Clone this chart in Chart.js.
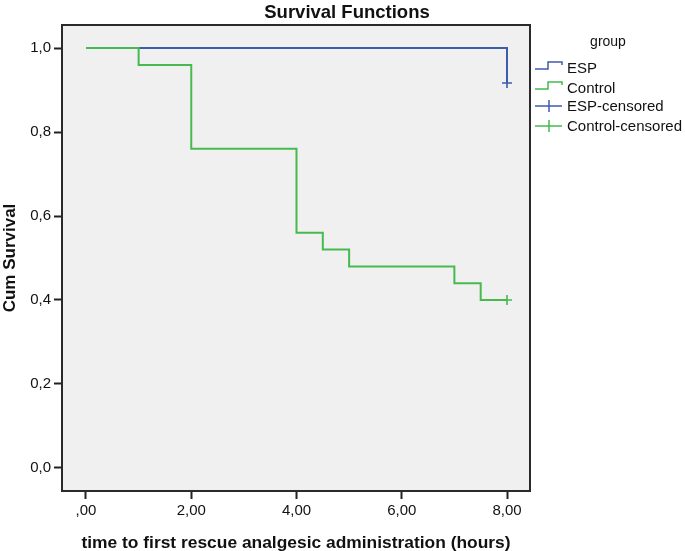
<!DOCTYPE html>
<html>
<head>
<meta charset="utf-8">
<script src="https://cdn.jsdelivr.net/npm/chart.js@4/dist/chart.umd.min.js"></script>
<style>
  html, body { margin: 0; padding: 0; background: #fff; }
  canvas { display: block; }
</style>
</head>
<body>
<canvas id="survival" width="685" height="551"></canvas>
<script>
// --- данные ---
const controlTimes = [0, 1, 2, 4, 4.5, 5, 7, 7.5, 8];
const controlSurvival = [1, 0.96, 0.76, 0.56, 0.52, 0.48, 0.44, 0.40, 0.40];
const espTimes = [0, 8];
const espSurvival = [1, 0.917];
const censoredTimes = [8];
const espCensored = [0.917];
const controlCensored = [0.40];

const xTickValues = [0, 2, 4, 6, 8];
const xTickLabels = [',00', '2,00', '4,00', '6,00', '8,00'];
const yTickValues = [0, 0.2, 0.4, 0.6, 0.8, 1.0];
const yTickLabels = ['0,0', '0,2', '0,4', '0,6', '0,8', '1,0'];
const legendLabels = ['ESP', 'Control', 'ESP-censored', 'Control-censored'];

const BLUE = '#3f5bab';
const GREEN = '#46b94f';
const FONT = 'Liberation Sans, Arial, Helvetica, sans-serif';

const toPoints = (xs, ys) => xs.map((x, i) => ({ x, y: ys[i] }));

// фон и рамка области построения, заголовок, легенда
const framePlugin = {
  id: 'frame',
  beforeDraw(chart) {
    const { ctx, chartArea: a } = chart;
    ctx.save();
    ctx.fillStyle = '#f0f0f0';
    ctx.fillRect(a.left, a.top, a.right - a.left, a.bottom - a.top);
    ctx.restore();
  },
  afterDraw(chart) {
    const { ctx, chartArea: a } = chart;
    ctx.save();
    ctx.strokeStyle = '#2a2a2a';
    ctx.lineWidth = 2;
    ctx.strokeRect(a.left, a.top, a.right - a.left, a.bottom - a.top);

    // заголовок
    ctx.fillStyle = '#111';
    ctx.font = 'bold 18.5px ' + FONT;
    ctx.textAlign = 'center';
    ctx.textBaseline = 'middle';
    ctx.fillText('Survival Functions', 347, 13);

    // легенда
    ctx.font = '14px ' + FONT;
    ctx.fillText('group', 608, 42);
    const rows = [68, 88, 106, 126];
    const colors = [BLUE, GREEN, BLUE, GREEN];
    ctx.font = '15px ' + FONT;
    ctx.textAlign = 'left';
    rows.forEach((y, i) => {
      ctx.strokeStyle = colors[i];
      ctx.lineWidth = 1.5;
      ctx.beginPath();
      if (i < 2) {
        ctx.moveTo(535, y + 1);
        ctx.lineTo(548, y + 1);
        ctx.lineTo(548, y - 6);
        ctx.lineTo(562, y - 6);
        ctx.lineTo(562, y - 3);
      } else {
        ctx.moveTo(535, y);
        ctx.lineTo(562, y);
        ctx.moveTo(549, y - 6);
        ctx.lineTo(549, y + 6);
      }
      ctx.stroke();
      ctx.fillStyle = '#111';
      ctx.fillText(legendLabels[i], 567, y + 1);
    });
    ctx.restore();
  }
};

new Chart(document.getElementById('survival'), {
  type: 'line',
  data: {
    datasets: [
      {
        label: 'Control',
        data: toPoints(controlTimes, controlSurvival),
        borderColor: GREEN, borderWidth: 2, stepped: 'before',
        pointRadius: 0, fill: false, order: 1
      },
      {
        label: 'ESP',
        data: toPoints(espTimes, espSurvival),
        borderColor: BLUE, borderWidth: 2, stepped: 'before',
        pointRadius: 0, fill: false, order: 2
      },
      {
        label: 'ESP-censored',
        data: toPoints(censoredTimes, espCensored),
        showLine: false, pointStyle: 'cross', pointRadius: 5,
        borderColor: BLUE, pointBorderWidth: 1.6, order: 0
      },
      {
        label: 'Control-censored',
        data: toPoints(censoredTimes, controlCensored),
        showLine: false, pointStyle: 'cross', pointRadius: 5,
        borderColor: GREEN, pointBorderWidth: 1.6, order: 0
      }
    ]
  },
  options: {
    responsive: false,
    animation: false,
    layout: { padding: { left: 0, top: 25, right: 155, bottom: 0 } },
    plugins: { legend: { display: false }, tooltip: { enabled: false } },
    scales: {
      x: {
        type: 'linear',
        min: -0.456, max: 8.437,
        afterFit: s => { s.height = 60; },
        afterBuildTicks: s => { s.ticks = xTickValues.map(v => ({ value: v })); },
        border: { display: false },
        grid: { drawOnChartArea: false, drawTicks: true, tickLength: 8, tickWidth: 2, tickColor: '#222' },
        ticks: {
          color: '#111', padding: 3,
          font: { family: FONT, size: 15 },
          callback: v => xTickLabels[xTickValues.indexOf(v)]
        },
        title: {
          display: true, text: 'time to first rescue analgesic administration (hours)',
          color: '#111', font: { family: FONT, size: 17.4, weight: 'bold' }, padding: { top: 0, bottom: -2.5 }
        }
      },
      y: {
        min: -0.055, max: 1.055,
        afterFit: s => { s.width = 62; },
        afterBuildTicks: s => { s.ticks = yTickValues.map(v => ({ value: v })); },
        border: { display: false },
        grid: { drawOnChartArea: false, drawTicks: true, tickLength: 8, tickWidth: 2, tickColor: '#222' },
        ticks: {
          color: '#111', padding: 3,
          font: { family: FONT, size: 15 },
          callback: v => yTickLabels[yTickValues.indexOf(v)]
        },
        title: {
          display: true, text: 'Cum Survival',
          color: '#111', font: { family: FONT, size: 17, weight: 'bold' }, padding: { top: 0, bottom: 0 }
        }
      }
    }
  },
  plugins: [framePlugin]
});
</script>
</body>
</html>
